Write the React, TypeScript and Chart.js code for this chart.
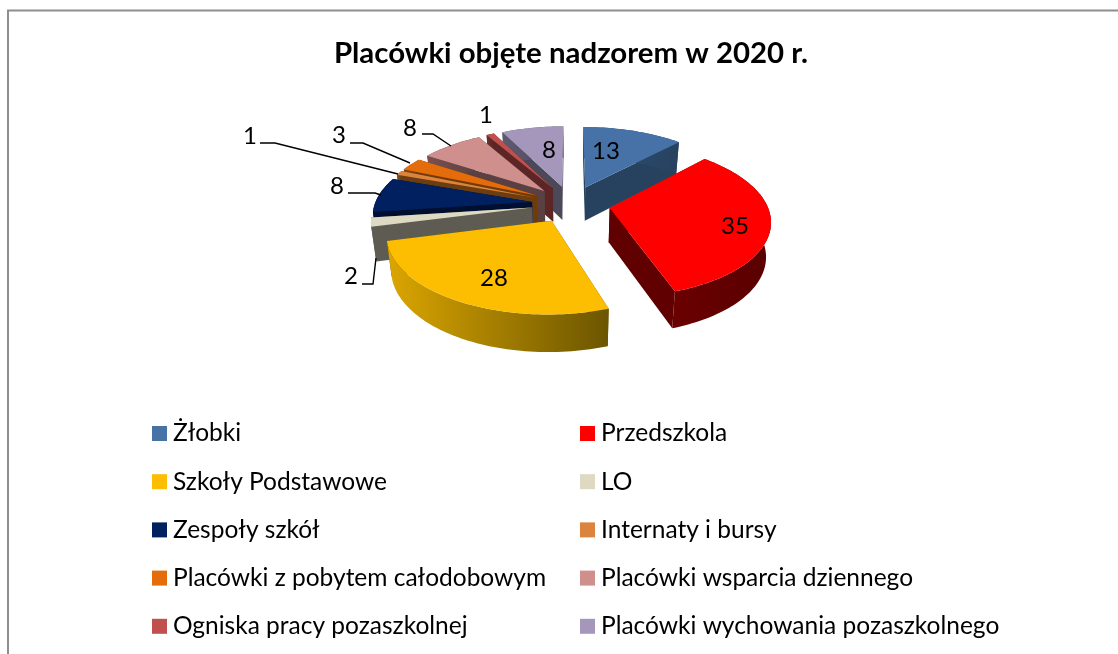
import React, { useEffect, useRef } from "react";
import { Chart, registerables, PieController, ArcElement } from "chart.js";

Chart.register(...registerables);

// ---- data ----
const chartTitle = "Placówki objęte nadzorem w 2020 r.";
const categories = [
  "Żłobki",
  "Przedszkola",
  "Szkoły Podstawowe",
  "LO",
  "Zespoły szkół",
  "Internaty i bursy",
  "Placówki z pobytem całodobowym",
  "Placówki wsparcia dziennego",
  "Ogniska pracy pozaszkolnej",
  "Placówki wychowania pozaszkolnego",
];
const seriesValues = [13, 35, 28, 2, 8, 1, 3, 8, 1, 8];
const topColors = ["#4672A8", "#FF0000", "#FDBD00", "#DDD9C3", "#002060", "#DB843D", "#E46C0A", "#CF8F8D", "#C0504D", "#A597BC"];
const wallColors = ["#27425F", "#600000", "#6B5500", "#5E5C52", "#000F30", "#6B3D10", "#733A05", "#5A4040", "#5B2625", "#4B485A"];
const bandStart = ["#2F5078", "#6A0000", "#DCA600", "#77756B", "#001038", "#8A4F16", "#8A4606", "#7A5050", "#6E2E2C", "#5E5A70"];
const bandEnd = ["#27425F", "#5A0000", "#6B5500", "#5E5C52", "#000F30", "#6B3D10", "#733A05", "#5A4040", "#5B2625", "#4B485A"];

// ---- annotation layout ----
const FONT = "Lato";
const LABEL_SIZE = 24;
const LEGEND_SIZE = 24.5;
const labelSpots = [
  { x: 606, y: 151 },
  { x: 735, y: 226 },
  { x: 494, y: 278 },
  { x: 351, y: 276, line: [[362, 284], [373, 284], [376, 258]] },
  { x: 337, y: 186, line: [[348, 193], [375, 193], [381, 195]] },
  { x: 250, y: 136, line: [[260, 143], [275, 143], [398, 174]] },
  { x: 339, y: 135, line: [[350, 143], [363, 143], [410, 163]] },
  { x: 410, y: 128, line: [[422, 134], [433, 134], [451, 146]] },
  { x: 486, y: 115 },
  { x: 549, y: 150 },
];

// ---- perspective of the pie plane, relative to the arc element's own geometry ----
const SCALE_X = 1.31;
const SCALE_Y = 0.6167;
const PERSP = 0.15;
const EXPLODE = 0.25;
const DEPTH = 0.2833; // fraction of outer radius

function project(el: any, u: number, v: number) {
  const R = el.outerRadius;
  const w = 1 - PERSP * v;
  return { x: el.x + (R * SCALE_X * u) / w, y: el.y + (R * SCALE_Y * v) / w, w };
}

function drop(el: any, p: { x: number; y: number; w: number }) {
  const d = el.outerRadius * DEPTH * Math.sqrt(1 / p.w);
  return { x: el.x + (p.x - el.x) * 0.975, y: p.y + d, w: p.w };
}

function sliceOutline(el: any) {
  const mid = (el.startAngle + el.endAngle) / 2;
  const ax = EXPLODE * Math.cos(mid);
  const ay = EXPLODE * Math.sin(mid);
  const pts: { x: number; y: number; w: number }[] = [];
  const steps = Math.max(6, Math.ceil((el.endAngle - el.startAngle) * 40));
  for (let i = 0; i <= steps; i++) {
    const a = el.startAngle + ((el.endAngle - el.startAngle) * i) / steps;
    pts.push(project(el, ax + Math.cos(a), ay + Math.sin(a)));
  }
  return { apex: project(el, ax, ay), arc: pts };
}

function fillPoly(ctx: CanvasRenderingContext2D, pts: { x: number; y: number }[], fill: any) {
  ctx.beginPath();
  pts.forEach((p, i) => (i ? ctx.lineTo(p.x, p.y) : ctx.moveTo(p.x, p.y)));
  ctx.closePath();
  ctx.fillStyle = fill;
  ctx.fill();
}

class Arc3DElement extends ArcElement {
  static id = "arc3d";
  static defaults = { ...(ArcElement as any).defaults, wallColor: "#333", bandStart: "#333", bandEnd: "#333" };
  draw(ctx: CanvasRenderingContext2D) {
    const el: any = this;
    const o = el.options;
    const { apex, arc } = sliceOutline(el);
    const first = arc[0];
    const last = arc[arc.length - 1];
    // radial walls
    fillPoly(ctx, [apex, first, drop(el, first), drop(el, apex)], o.wallColor);
    fillPoly(ctx, [apex, last, drop(el, last), drop(el, apex)], o.wallColor);
    // rim
    const xs = arc.map((p) => p.x);
    const g = ctx.createLinearGradient(Math.min(...xs), 0, Math.max(...xs), 0);
    g.addColorStop(0, o.bandStart);
    g.addColorStop(1, o.bandEnd);
    const rim = [...arc, ...arc.map((p) => drop(el, p)).reverse()];
    fillPoly(ctx, rim, g);
    // top face
    fillPoly(ctx, [apex, ...arc], o.backgroundColor);
  }
}

class Pie3DController extends PieController {
  static id = "pie3d";
  static defaults = { ...(PieController as any).defaults, dataElementType: "arc3d" };
  static overrides = (PieController as any).overrides;
  draw() {
    const ctx = (this as any).chart.ctx;
    const meta = (this as any).getMeta();
    // back to front by the position of the slice's apex on the pie plane
    const order = meta.data
      .map((el: any) => el)
      .sort((a: any, b: any) => Math.sin((a.startAngle + a.endAngle) / 2) - Math.sin((b.startAngle + b.endAngle) / 2));
    order.forEach((el: any) => {
      ctx.save();
      el.draw(ctx);
      ctx.restore();
    });
  }
}

Chart.register(Arc3DElement as any, Pie3DController as any);

const framePlugin = {
  id: "frame",
  beforeDraw(chart: any) {
    const { ctx } = chart;
    ctx.save();
    ctx.fillStyle = "#fff";
    ctx.fillRect(0, 0, chart.width, chart.height);
    ctx.strokeStyle = "#8E8E8E";
    ctx.lineWidth = 2;
    ctx.beginPath();
    ctx.moveTo(8, chart.height);
    ctx.lineTo(8, 10.5);
    ctx.lineTo(chart.width, 10.5);
    ctx.stroke();
    ctx.restore();
  },
};

const annotationPlugin = {
  id: "annotations",
  afterDatasetsDraw(chart: any) {
    const { ctx } = chart;
    const values = chart.data.datasets[0].data;
    ctx.save();
    ctx.font = `${LABEL_SIZE}px ${FONT}`;
    ctx.textAlign = "center";
    ctx.textBaseline = "middle";
    labelSpots.forEach((s: any, i: number) => {
      if (s.line) {
        ctx.strokeStyle = "#000";
        ctx.lineWidth = 1.4;
        ctx.beginPath();
        s.line.forEach(([x, y]: number[], j: number) => (j ? ctx.lineTo(x, y) : ctx.moveTo(x, y)));
        ctx.stroke();
      }
      ctx.fillStyle = "#000";
      ctx.fillText(String(values[i]), s.x, s.y);
    });
    ctx.restore();
  },
};

const legendPlugin = {
  id: "columnLegend",
  afterDraw(chart: any) {
    const { ctx } = chart;
    const labels: string[] = chart.data.labels;
    const colors: string[] = chart.data.datasets[0].backgroundColor;
    ctx.save();
    ctx.font = `${LEGEND_SIZE}px ${FONT}`;
    ctx.textAlign = "left";
    ctx.textBaseline = "middle";
    labels.forEach((name, i) => {
      const col = i % 2;
      const row = Math.floor(i / 2);
      const y = 433.5 + row * 48.2;
      const x = col ? 580 : 152;
      ctx.fillStyle = colors[i];
      ctx.fillRect(x, y - 7.5, 15, 15);
      ctx.fillStyle = "#000";
      ctx.fillText(name, x + 21, y);
    });
    ctx.restore();
  },
};

export default function App() {
  const ref = useRef<HTMLCanvasElement>(null);
  useEffect(() => {
    if (!ref.current) return;
    const chart = new Chart(ref.current, {
      type: "pie3d" as any,
      data: {
        labels: categories,
        datasets: [
          {
            data: seriesValues,
            backgroundColor: topColors,
            borderWidth: 0,
            wallColor: wallColors,
            bandStart,
            bandEnd,
          } as any,
        ],
      },
      options: {
        responsive: false,
        animation: false,
        layout: { padding: { left: 301, right: 277, top: 18, bottom: 330 } },
        plugins: {
          legend: { display: false },
          tooltip: { enabled: false },
          title: {
            display: true,
            text: chartTitle,
            fullSize: false,
            color: "#000",
            font: { family: FONT, size: 29.4, weight: "bold", lineHeight: 1.2 },
            padding: { top: 17.6, bottom: 13.1 },
          },
        },
      } as any,
      plugins: [framePlugin, annotationPlugin, legendPlugin],
    });
    return () => chart.destroy();
  }, []);
  return (
    <div style={{ position: "absolute", left: 0, top: 0, width: 1118, height: 654 }}>
      <canvas ref={ref} width={1118} height={654} style={{ display: "block" }} />
    </div>
  );
}
